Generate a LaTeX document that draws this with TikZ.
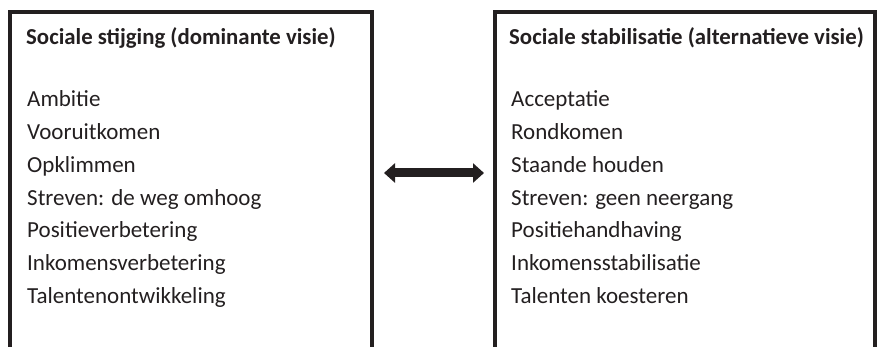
\documentclass[tikz,border=0pt]{standalone}
\usepackage{fontspec}
\setmainfont{Carlito}
\usetikzlibrary{arrows.meta}
\definecolor{ink}{HTML}{231F20}
\tikzset{
  frame/.style={draw=ink, line width=3.5pt},
  title/.style={anchor=base west, inner sep=0pt, font=\fontsize{22.8}{27}\selectfont\bfseries, text=ink},
  item/.style={anchor=base west, inner sep=0pt, font=\fontsize{23}{27}\selectfont, text=ink},
  dbl/.style={draw=ink, line width=9pt, {Triangle[length=11pt,width=19pt]}-{Triangle[length=11pt,width=19pt]}}
}
\begin{document}
\begin{tikzpicture}[x=1pt,y=-1pt]
\useasboundingbox (0,0) rectangle (885,347);
% left box (open bottom)
\draw[frame] (10,350) -- (10,12) -- (372,12) -- (372,350);
% right box (open bottom)
\draw[frame] (495,350) -- (495,12) -- (875,12) -- (875,350);
% left texts
\node[title] (lt) at (26,45) {Sociale stijging (dominante visie)};
\node[item] (l1) at (27,107) {Ambitie};
\node[item] (l2) at (27,139.7) {Vooruitkomen};
\node[item] (l3) at (27,172.4) {Opklimmen};
\node[item] (l4) at (27,205.1) {Streven: de weg omhoog};
\node[item] (l5) at (27,237.8) {Positieverbetering};
\node[item] (l6) at (27,270.5) {Inkomensverbetering};
\node[item] (l7) at (27,303.2) {Talentenontwikkeling};
% right texts
\node[title] (rt) at (509,45) {Sociale stabilisatie (alternatieve visie)};
\node[item] (r1) at (511,107) {Acceptatie};
\node[item] (r2) at (511,139.7) {Rondkomen};
\node[item] (r3) at (511,172.4) {Staande houden};
\node[item] (r4) at (511,205.1) {Streven: geen neergang};
\node[item] (r5) at (511,237.8) {Positiehandhaving};
\node[item] (r6) at (511,270.5) {Inkomensstabilisatie};
\node[item] (r7) at (511,303.2) {Talenten koesteren};
% arrow
\coordinate (aL) at (384,173);
\coordinate (aR) at (484,173);
\draw[dbl] (aL) -- (aR);
\end{tikzpicture}
\end{document}
